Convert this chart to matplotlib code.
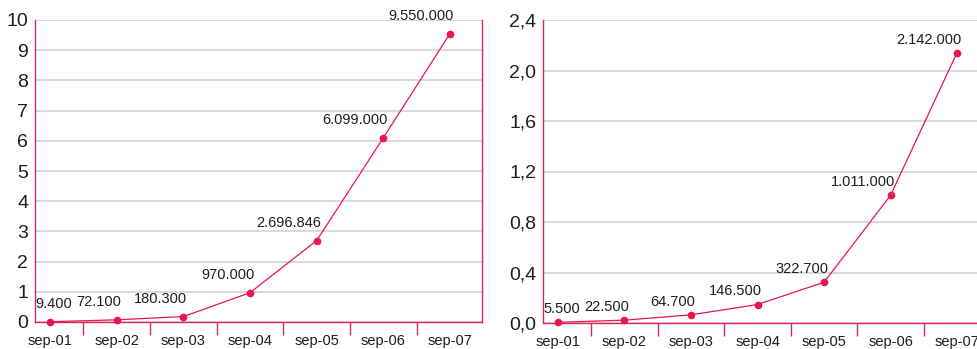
import matplotlib.pyplot as plt
from matplotlib.ticker import FixedLocator, FuncFormatter

plt.rcParams['font.family'] = ['Liberation Sans', 'DejaVu Sans']

# Monthly figures for the two series (absolute values, axis shown in millions)
months = ["sep-01", "sep-02", "sep-03", "sep-04", "sep-05", "sep-06", "sep-07"]
left_values = [9400, 72100, 180300, 970000, 2696846, 6099000, 9550000]
right_values = [5500, 22500, 64700, 146500, 322700, 1011000, 2142000]

left_yticks = [0, 1, 2, 3, 4, 5, 6, 7, 8, 9, 10]
right_yticks = [0.0, 0.4, 0.8, 1.2, 1.6, 2.0, 2.4]

LINE = '#e8174f'
SPINE = '#e0245e'
GRID = '#d9d9d9'
TEXT = '#1e1e1e'

W, H = 977, 349
fig = plt.figure(figsize=(W / 100, H / 100), dpi=100)

ax_left = fig.add_axes([35 / W, 1 - 322 / H, 447 / W, 302 / H])
ax_right = fig.add_axes([543 / W, 1 - 323 / H, 446 / W, 303 / H])


def thousands(v):
    return f"{v:,}".replace(",", ".")


def draw_panel(ax, values, yticks, yfmt, label_dy):
    x = list(range(len(values)))
    y = [v / 1e6 for v in values]
    ax.plot(x, y, color=LINE, lw=0.9, marker='o', ms=4.5, zorder=3, clip_on=False)

    ax.set_xlim(-0.225, len(values) - 1 + 0.48)
    ax.set_ylim(yticks[0], yticks[-1])

    ax.set_yticks(yticks)
    ax.yaxis.set_major_formatter(FuncFormatter(yfmt))
    ax.tick_params(axis='y', length=0, pad=5, labelsize=14, labelcolor=TEXT)
    ax.yaxis.grid(True, color=GRID, lw=1.4)
    ax.set_axisbelow(True)

    # tick marks sit between categories, labels under each point
    ax.xaxis.set_major_locator(FixedLocator([i + 0.5 for i in x[:-1]]))
    ax.xaxis.set_major_formatter(FuncFormatter(lambda v, p: ""))
    ax.xaxis.set_minor_locator(FixedLocator(x))
    ax.set_xticks(x, months, minor=True)
    ax.tick_params(axis='x', which='major', length=9, width=1, color=SPINE)
    ax.tick_params(axis='x', which='minor', length=0, pad=8.5,
                   labelsize=10.5, labelcolor=TEXT)

    for side in ['left', 'right', 'bottom']:
        ax.spines[side].set_color(SPINE)
        ax.spines[side].set_linewidth(1)
    ax.spines['top'].set_visible(False)

    for i, (xi, yi) in enumerate(zip(x, y)):
        if i == 0:
            ax.annotate(thousands(values[i]), (ax.get_xlim()[0], yi),
                        xytext=(0.5, label_dy), textcoords='offset points',
                        ha='left', va='baseline', fontsize=10.5, color=TEXT)
        else:
            ax.annotate(thousands(values[i]), (xi, yi),
                        xytext=(3, label_dy), textcoords='offset points',
                        ha='right', va='baseline', fontsize=10.5, color=TEXT)


draw_panel(ax_left, left_values, left_yticks,
           lambda v, p: f"{int(round(v))}", 10)
draw_panel(ax_right, right_values, right_yticks,
           lambda v, p: f"{v:.1f}".replace(".", ","), 6.5)

fig.savefig("out.png", dpi=100)
